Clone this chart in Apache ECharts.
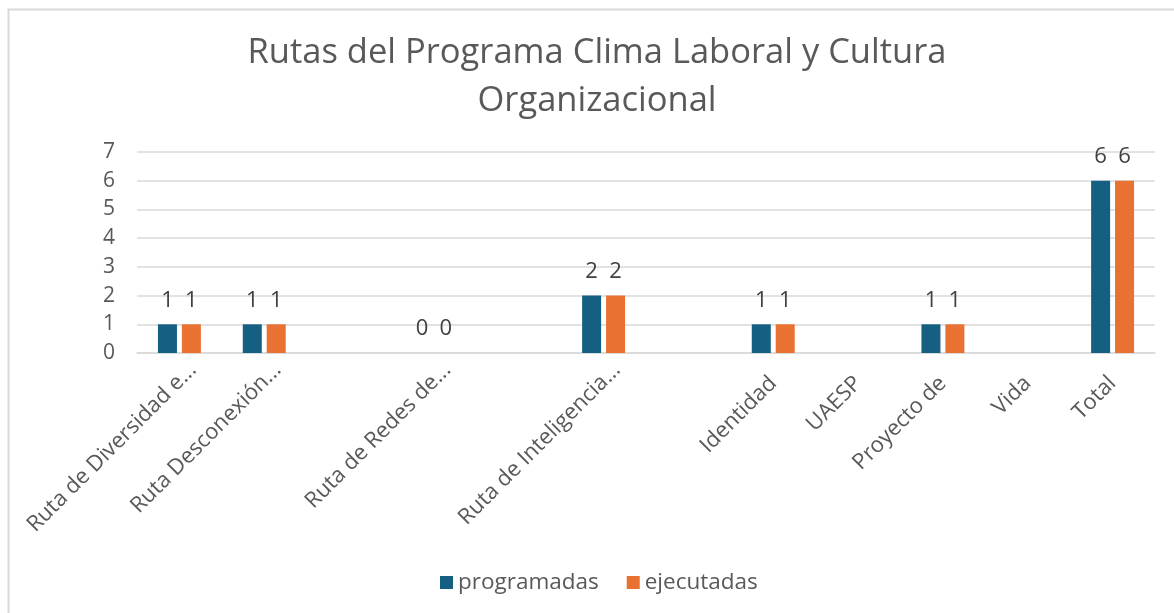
<!DOCTYPE html>
<html>
<head>
<meta charset="utf-8">
<script src="https://cdn.jsdelivr.net/npm/echarts@6/dist/echarts.min.js"></script>
<style>
html,body{margin:0;padding:0;background:#fff;}
#chart{width:1174px;height:613px;}
</style>
</head>
<body>
<div id="chart"></div>
<script>
const titleText = 'Rutas del Programa Clima Laboral y Cultura\nOrganizacional';
const categories = ['Ruta de Diversidad e...', 'Ruta Desconexión...', '', 'Ruta de Redes de...', '', 'Ruta de Inteligencia...', '', 'Identidad', 'UAESP', 'Proyecto de', 'Vida', 'Total'];
const programadas = [1, 1, null, 0, null, 2, null, 1, null, 1, null, 6];
const ejecutadas = [1, 1, null, 0, null, 2, null, 1, null, 1, null, 6];
const yTicks = [0, 1, 2, 3, 4, 5, 6, 7];

const FONT = '"Open Sans", sans-serif';
// truncated labels (ending with "...") sit a little up-right of their tick, as in the source
const catData = categories.map(function (c) {
  if (c.slice(-3) === '...') {
    return {value: c, textStyle: {padding: [13, -19, 0, 0]}};
  }
  return c;
});

const chart = echarts.init(document.getElementById('chart'), null, {renderer: 'canvas'});
chart.setOption({
  animation: false,
  backgroundColor: '#fff',
  graphic: [{
    type: 'rect', left: 6, top: 7,
    shape: {width: 1200, height: 700},
    style: {fill: 'none', stroke: '#d9d9d9', lineWidth: 2}
  }],
  title: {
    text: titleText,
    left: 592, top: 24,
    textAlign: 'center',
    textStyle: {fontFamily: FONT, fontSize: 34.5, fontWeight: 'normal', color: '#595959', lineHeight: 48}
  },
  legend: {
    top: 566, left: 435,
    itemWidth: 13, itemHeight: 13, itemGap: 28,
    icon: 'rect',
    textStyle: {fontFamily: FONT, fontSize: 22.5, color: '#595959'},
    data: ['programadas', 'ejecutadas']
  },
  grid: {left: 137, right: 19, top: 152, bottom: 260, containLabel: false},
  xAxis: {
    type: 'category',
    data: catData,
    axisLine: {show: true, lineStyle: {color: '#d9d9d9', width: 1.5}},
    axisTick: {show: false},
    axisLabel: {interval: 0, rotate: 45, margin: 27, fontFamily: FONT, fontSize: 22, color: '#595959'}
  },
  yAxis: {
    type: 'value', min: yTicks[0], max: yTicks[yTicks.length - 1], interval: 1,
    axisLine: {show: false}, axisTick: {show: false},
    splitLine: {lineStyle: {color: '#d9d9d9', width: 1.5}},
    axisLabel: {margin: 22, fontFamily: FONT, fontSize: 21, color: '#595959'}
  },
  series: [{
    name: 'programadas', type: 'bar', data: programadas,
    barWidth: 19, barGap: '26%',
    itemStyle: {color: '#156082'},
    label: {show: true, position: 'top', distance: 13, fontFamily: FONT, fontSize: 22, color: '#404040'}
  }, {
    name: 'ejecutadas', type: 'bar', data: ejecutadas,
    barWidth: 19, barGap: '26%',
    itemStyle: {color: '#E97132'},
    label: {show: true, position: 'top', distance: 13, fontFamily: FONT, fontSize: 22, color: '#404040'}
  }]
});
</script>
</body>
</html>
